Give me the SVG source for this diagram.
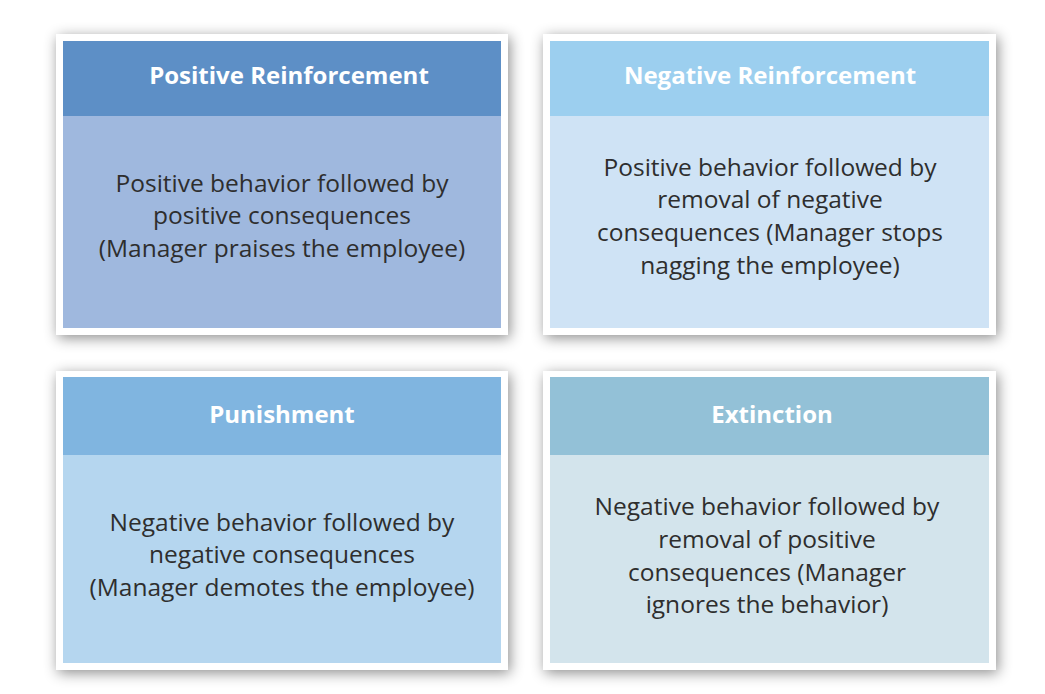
<svg xmlns="http://www.w3.org/2000/svg" width="1045" height="694" viewBox="0 0 1045 694">
<defs>
<filter id="sh" x="-10%" y="-10%" width="120%" height="120%">
<feDropShadow dx="2" dy="3" stdDeviation="7" flood-color="#000" flood-opacity="0.45"/>
</filter>
<style>
.frame{fill:#fff;filter:url(#sh)}
.title{font-family:"Open Sans","Noto Sans",sans-serif;font-weight:bold;font-size:24px;fill:#fff;text-anchor:middle}
.body{font-family:"Open Sans","Noto Sans",sans-serif;font-size:24.5px;fill:#2e2e2e;text-anchor:middle}
</style>
</defs>
<rect width="1045" height="694" fill="#fff"/>
<g id="positive-reinforcement">
<rect class="frame" x="56" y="34" width="452" height="301"/>
<rect x="63" y="41" width="438" height="287" fill="#9fb8de"/>
<rect x="63" y="41" width="438" height="75" fill="#5d8fc6"/>
<text class="title" x="289" y="84">Positive Reinforcement</text>
<text class="body" x="282" y="192">Positive behavior followed by</text>
<text class="body" x="282" y="224">positive consequences</text>
<text class="body" x="282" y="257">(Manager praises the employee)</text>
</g>
<g id="negative-reinforcement">
<rect class="frame" x="543" y="34" width="453" height="301"/>
<rect x="550" y="41" width="439" height="287" fill="#cfe3f5"/>
<rect x="550" y="41" width="439" height="75" fill="#9ccfef"/>
<text class="title" x="770" y="84">Negative Reinforcement</text>
<text class="body" x="770" y="176">Positive behavior followed by</text>
<text class="body" x="770" y="208">removal of negative</text>
<text class="body" x="770" y="241">consequences (Manager stops</text>
<text class="body" x="770" y="274">nagging the employee)</text>
</g>
<g id="punishment">
<rect class="frame" x="56" y="371" width="452" height="299"/>
<rect x="63" y="377" width="438" height="286" fill="#b5d6ef"/>
<rect x="63" y="377" width="438" height="78" fill="#80b5e0"/>
<text class="title" x="282" y="423">Punishment</text>
<text class="body" x="282" y="531">Negative behavior followed by</text>
<text class="body" x="282" y="563">negative consequences</text>
<text class="body" x="282" y="596">(Manager demotes the employee)</text>
</g>
<g id="extinction">
<rect class="frame" x="543" y="371" width="453" height="299"/>
<rect x="550" y="377" width="439" height="286" fill="#d3e4ec"/>
<rect x="550" y="377" width="439" height="78" fill="#93c1d7"/>
<text class="title" x="772" y="423">Extinction</text>
<text class="body" x="767" y="515">Negative behavior followed by</text>
<text class="body" x="767" y="548">removal of positive</text>
<text class="body" x="767" y="581">consequences (Manager</text>
<text class="body" x="767" y="613">ignores the behavior)</text>
</g>
<g id="connectors"/>
</svg>
